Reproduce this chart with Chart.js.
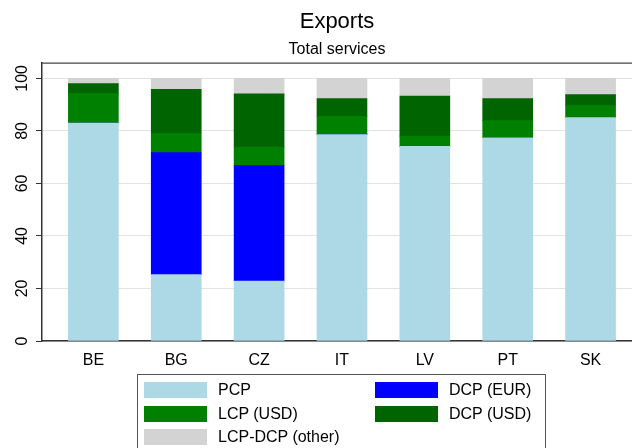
<!DOCTYPE html>
<html lang="en">
<head>
<meta charset="UTF-8">
<title>Exports - Total services</title>
<script src="https://cdn.jsdelivr.net/npm/chart.js"></script>
<style>
  html, body { margin: 0; padding: 0; background: #fff; }
  #wrap { position: relative; width: 632px; height: 448px; overflow: hidden; }
  #legend {
    position: absolute; left: 137px; top: 374px; width: 409px; height: 90px;
    border: 1px solid #555; box-sizing: border-box;
    font-family: "Liberation Sans", Arial, sans-serif; font-size: 16px; color: #000;
  }
  .item { position: absolute; height: 16px; }
  .item span.box { position: absolute; left: 0; top: 0; width: 63px; height: 16px; }
  .item span.txt { position: absolute; left: 74px; top: -2px; white-space: nowrap; line-height: 20px; }
</style>
</head>
<body>
<div id="wrap">
  <canvas id="chart" width="632" height="448"></canvas>
  <div id="legend"></div>
</div>
<script>
const countries = ['BE', 'BG', 'CZ', 'IT', 'LV', 'PT', 'SK'];

const pcp     = [83.0, 25.3, 22.8, 78.6, 74.1, 77.4, 85.1];
const dcpEur  = [0,    46.4, 44.0, 0,    0,    0,    0];
const lcpUsd  = [11.3, 7.4,  7.0,  6.9,  3.9,  6.5,  4.6];
const dcpUsd  = [3.7,  16.7, 20.3, 6.8,  15.3, 8.4,  4.1];
const other   = [2.0,  4.2,  5.9,  7.7,  6.7,  7.7,  6.2];

const yTicks = [0, 20, 40, 60, 80, 100];

const font = "'Liberation Sans', Arial, sans-serif";

const series = [
  { label: 'PCP',             data: pcp,    color: '#add8e6' },
  { label: 'DCP (EUR)',       data: dcpEur, color: '#0000ff' },
  { label: 'LCP (USD)',       data: lcpUsd, color: '#008000' },
  { label: 'DCP (USD)',       data: dcpUsd, color: '#006400' },
  { label: 'LCP-DCP (other)', data: other,  color: '#d3d3d3' }
];

// box line along the top of the plot region
const topLine = {
  id: 'topLine',
  afterDraw(chart) {
    const { ctx, chartArea } = chart;
    ctx.save();
    ctx.strokeStyle = '#444';
    ctx.lineWidth = 1.2;
    ctx.beginPath();
    ctx.moveTo(chartArea.left, chartArea.top + 0.5);
    ctx.lineTo(chartArea.right, chartArea.top + 0.5);
    ctx.stroke();
    ctx.restore();
  }
};

const ctx = document.getElementById('chart').getContext('2d');

new Chart(ctx, {
  type: 'bar',
  data: {
    datasets: series.map(s => ({
      label: s.label,
      data: s.data.map((v, i) => ({ x: i, y: v })),
      backgroundColor: s.color,
      borderWidth: 0,
      barThickness: 50
    }))
  },
  options: {
    responsive: false,
    animation: false,
    layout: { padding: { left: 0, right: 0, top: 0, bottom: 74 } },
    plugins: {
      legend: { display: false },
      tooltip: { enabled: false },
      title: {
        display: true,
        text: 'Exports',
        fullSize: false,
        color: '#000',
        font: { family: font, size: 22, weight: 'normal' },
        padding: { top: 9, bottom: 2 }
      },
      subtitle: {
        display: true,
        text: 'Total services',
        fullSize: false,
        color: '#000',
        font: { family: font, size: 16, weight: 'normal' },
        padding: { top: 3, bottom: 3 }
      }
    },
    scales: {
      x: {
        type: 'linear',
        stacked: true,
        offset: false,
        min: -0.62,
        max: 6.5,
        grid: { display: false, offset: false },
        border: { display: true, color: '#333', width: 1.5 },
        afterBuildTicks: scale => { scale.ticks = countries.map((c, i) => ({ value: i })); },
        afterFit: scale => { scale.height = 33; },
        ticks: {
          autoSkip: false,
          maxRotation: 0,
          padding: 2,
          color: '#000',
          font: { family: font, size: 16 },
          callback: v => countries[v]
        }
      },
      y: {
        stacked: true,
        min: 0,
        max: 106,
        afterBuildTicks: scale => { scale.ticks = yTicks.map(v => ({ value: v })); },
        afterFit: scale => { scale.width = 42; },
        grid: { color: '#e2e2e2', lineWidth: 1, tickLength: 6, tickColor: '#333', tickWidth: 1 },
        border: { display: true, color: '#333', width: 1.5 },
        ticks: {
          minRotation: 90,
          maxRotation: 90,
          crossAlign: 'center',
          padding: 0,
          color: '#000',
          font: { family: font, size: 16 }
        }
      }
    }
  },
  plugins: [topLine]
});

// legend in two columns, filled row by row
const legend = document.getElementById('legend');
series.forEach((s, i) => {
  const col = i % 2, row = Math.floor(i / 2);
  const item = document.createElement('div');
  item.className = 'item';
  item.style.left = (6 + col * 231) + 'px';
  item.style.top = (7 + row * 23.5) + 'px';
  item.innerHTML = '<span class="box" style="background:' + s.color + '"></span><span class="txt">' + s.label + '</span>';
  legend.appendChild(item);
});
</script>
</body>
</html>
